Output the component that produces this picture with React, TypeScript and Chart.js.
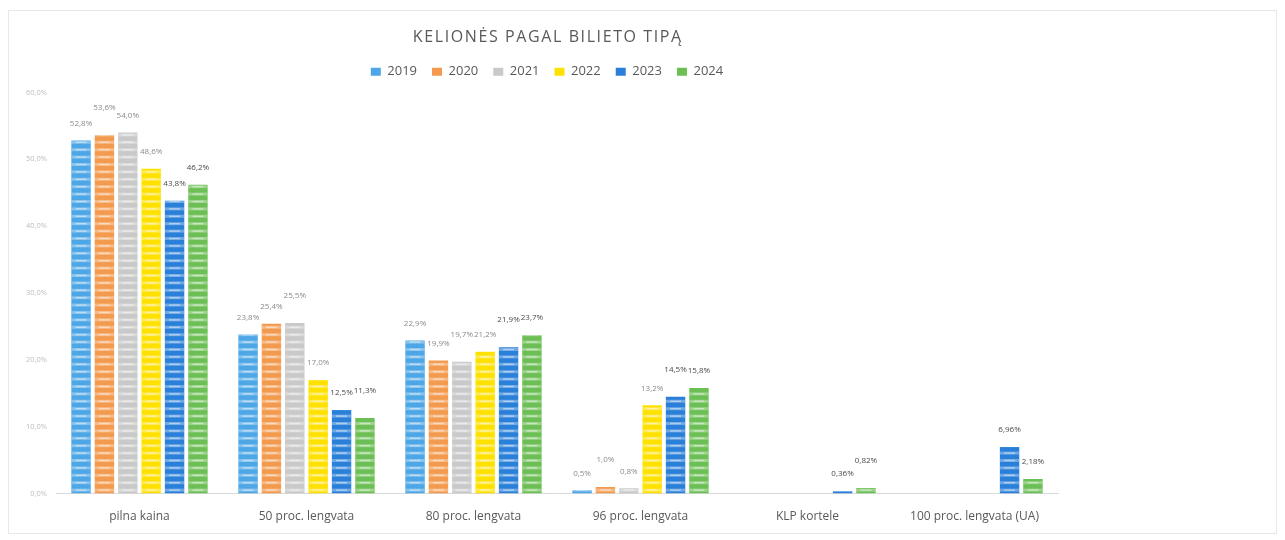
import React, { useEffect, useRef } from "react";
import { Chart, registerables } from "chart.js";

Chart.register(...registerables);

const titleText = "KELIONĖS PAGAL BILIETO TIPĄ";
const categories = [
  "pilna kaina",
  "50 proc. lengvata",
  "80 proc. lengvata",
  "96 proc. lengvata",
  "KLP kortele",
  "100 proc. lengvata (UA)",
];
const years = ["2019", "2020", "2021", "2022", "2023", "2024"];

const v2019 = [52.8, 23.8, 22.9, 0.5, null, null];
const v2020 = [53.6, 25.4, 19.9, 1.0, null, null];
const v2021 = [54.0, 25.5, 19.7, 0.8, null, null];
const v2022 = [48.6, 17.0, 21.2, 13.2, null, null];
const v2023 = [43.8, 12.5, 21.9, 14.5, 0.36, 6.96];
const v2024 = [46.2, 11.3, 23.7, 15.8, 0.82, 2.18];

const labelDecimals = [1, 1, 1, 1, 2, 2];
const yTicks = [0, 10, 20, 30, 40, 50, 60];

const seriesValues = [v2019, v2020, v2021, v2022, v2023, v2024];
const seriesColors = ["#4da6e6", "#f39a4e", "#c9c9c9", "#ffe100", "#2a7fd9", "#6cbf55"];
const labelColors = ["#8a8a8a", "#8a8a8a", "#8a8a8a", "#8a8a8a", "#4a4a4a", "#4a4a4a"];

const fmt = (v: number, d: number) => v.toFixed(d).replace(".", ",") + "%";

const stripePlugin = {
  id: "stripes",
  afterDatasetsDraw(chart: any) {
    const ctx = chart.ctx;
    chart.data.datasets.forEach((ds: any, di: number) => {
      const meta = chart.getDatasetMeta(di);
      meta.data.forEach((bar: any, i: number) => {
        const v = ds.data[i];
        if (v === null || v === undefined) return;
        const { x, y, base, width } = bar.getProps(["x", "y", "base", "width"], true);
        const left = x - width / 2;
        const h = base - y;
        if (h <= 0) return;
        ctx.save();
        ctx.beginPath();
        ctx.rect(left, y, width, h);
        ctx.clip();
        for (let yy = base - 5; yy > y - 4; yy -= 7.4) {
          ctx.fillStyle = "rgba(255,255,255,0.32)";
          ctx.fillRect(left, yy, width, 3);
          ctx.fillStyle = "rgba(255,255,255,0.45)";
          ctx.fillRect(x - width * 0.28, yy + 0.8, width * 0.56, 1.4);
        }
        ctx.restore();
      });
    });
  },
};

const labelPlugin = {
  id: "valueLabels",
  afterDatasetsDraw(chart: any) {
    const ctx = chart.ctx;
    ctx.save();
    ctx.font = "8px 'Open Sans'";
    ctx.textAlign = "center";
    ctx.textBaseline = "middle";
    const nCat = categories.length;
    for (let ci = 0; ci < nCat; ci++) {
      let prevTop: number | null = null;
      let prevLifted = false;
      chart.data.datasets.forEach((ds: any, di: number) => {
        const v = ds.data[ci];
        if (v === null || v === undefined) return;
        const bar = chart.getDatasetMeta(di).data[ci];
        const { x, y } = bar.getProps(["x", "y"], true);
        let lift = 17;
        let lifted = false;
        if (prevTop !== null && !prevLifted && Math.abs(prevTop - y) < 9) {
          lift += 10;
          lifted = true;
        }
        ctx.fillStyle = labelColors[di];
        ctx.fillText(fmt(v, labelDecimals[ci]), x, y - lift);
        prevTop = y;
        prevLifted = lifted;
      });
    }
    ctx.restore();
  },
};

const customTextPlugin = {
  id: "customText",
  afterDraw(chart: any) {
    const ctx = chart.ctx;
    ctx.save();
    const ys = chart.scales.y;
    ctx.font = "7.5px 'Open Sans'";
    ctx.fillStyle = "#bdbdbd";
    ctx.textAlign = "right";
    ctx.textBaseline = "middle";
    yTicks.forEach((v) => {
      ctx.fillText(fmt(v, 1), chart.chartArea.left - 9, ys.getPixelForValue(v));
    });
    const tb = chart.titleBlock;
    if (tb) {
      ctx.font = "16px 'Open Sans'";
      ctx.fillStyle = "#595959";
      ctx.textAlign = "center";
      ctx.textBaseline = "middle";
      (ctx as any).letterSpacing = "1.6px";
      ctx.fillText(titleText, (tb.left + tb.right) / 2 + 0.8, tb.top + 17 + 9.6);
      (ctx as any).letterSpacing = "0px";
    }
    ctx.restore();
  },
};

export default function App() {
  const ref = useRef<HTMLCanvasElement | null>(null);

  useEffect(() => {
    if (!ref.current) return;
    const chart = new Chart(ref.current, {
      type: "bar",
      data: {
        labels: categories,
        datasets: years.map((yr, i) => ({
          label: yr,
          data: seriesValues[i],
          backgroundColor: seriesColors[i],
          borderWidth: 0,
          categoryPercentage: 0.84,
          barPercentage: 0.83,
        })),
      },
      options: {
        animation: false,
        responsive: true,
        maintainAspectRatio: false,
        layout: { padding: { left: 27, right: 218, top: 0, bottom: -7 } },
        plugins: {
          title: {
            display: true,
            text: titleText,
            color: "rgba(0,0,0,0)",
            font: { family: "'Open Sans'", size: 16, weight: "normal" },
            padding: { top: 16, bottom: 4 },
          },
          subtitle: {
            display: true,
            text: " ",
            color: "rgba(0,0,0,0)",
            font: { size: 1 },
            padding: { top: 0, bottom: 3 },
            weight: 500,
          } as any,
          legend: {
            display: true,
            labels: {
              color: "#595959",
              font: { family: "'Open Sans'", size: 13 },
              boxWidth: 10,
              boxHeight: 8,
              padding: 15,
            },
          },
          tooltip: { enabled: false },
        },
        scales: {
          x: {
            grid: { display: false, drawTicks: false },
            border: { display: true, color: "#d9d9d9" },
            ticks: {
              color: "#595959",
              font: { family: "'Open Sans'", size: 12 },
              padding: 16,
              maxRotation: 0,
              autoSkip: false,
            },
          },
          y: {
            min: 0,
            max: 60,
            afterFit(scale: any) {
              scale.width = 20;
            },
            grid: { display: false, drawTicks: false },
            border: { display: false },
            ticks: { display: false, stepSize: 10 },
          },
        },
      },
      plugins: [stripePlugin, labelPlugin, customTextPlugin],
    });
    return () => chart.destroy();
  }, []);

  return (
    <div
      style={{
        width: 1269,
        height: 524,
        marginTop: 2,
        border: "1px solid #e8e8e8",
        boxSizing: "border-box",
        position: "relative",
        background: "#ffffff",
      }}
    >
      <canvas ref={ref} />
    </div>
  );
}
